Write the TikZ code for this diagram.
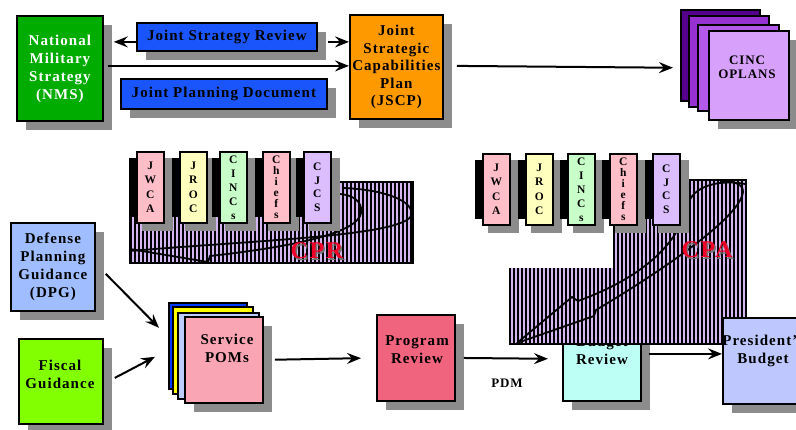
\documentclass[tikz,border=0pt]{standalone}
\usepackage{fontspec}
\newfontfamily\lsf{Liberation Serif}[LetterSpace=7]
\usetikzlibrary{shadows,arrows.meta}
\definecolor{shgray}{RGB}{140,140,140}
\definecolor{nmsgreen}{RGB}{0,172,0}
\definecolor{jblue}{RGB}{25,85,250}
\definecolor{jorange}{RGB}{255,153,0}
\definecolor{cincA}{RGB}{85,0,140}
\definecolor{cincB}{RGB}{150,50,210}
\definecolor{cincC}{RGB}{180,90,235}
\definecolor{cincD}{RGB}{215,160,250}
\definecolor{dpgblue}{RGB}{160,190,255}
\definecolor{fiscgreen}{RGB}{130,255,0}
\definecolor{pomblue}{RGB}{0,60,255}
\definecolor{pomyellow}{RGB}{255,255,0}
\definecolor{pomlblue}{RGB}{190,205,255}
\definecolor{pompink}{RGB}{250,165,180}
\definecolor{progred}{RGB}{240,100,125}
\definecolor{budcyan}{RGB}{190,255,245}
\definecolor{presblue}{RGB}{190,200,255}
\definecolor{orgpink}{RGB}{255,190,200}
\definecolor{orgyellow}{RGB}{255,255,190}
\definecolor{orggreen}{RGB}{200,255,200}
\definecolor{orgpurple}{RGB}{220,190,255}
\definecolor{hatchfill}{RGB}{212,182,242}
\definecolor{cpred}{RGB}{240,0,40}
\newcommand\orgbox[6]{%
  \fill[shgray] (#2+6,#3+7) rectangle (#2+37,#3+80);
  \fill[black] (#2-7,#3+7) rectangle (#2+5,#3+66);
  \node[orgb, fill=#4, font=\lsf\bfseries\fontsize{11.5}{#6}\selectfont] (#1) at (#2,#3) {#5};
}
\begin{document}
\begin{tikzpicture}[x=1pt,y=-1pt,
  box/.style={draw=black, line width=1.8pt, inner xsep=1pt, inner ysep=1pt, align=center, anchor=north west, font=\lsf\bfseries\fontsize{15}{18}\selectfont},
  page/.style={draw=black, line width=1.6pt, inner sep=0pt, anchor=north west},
  txt/.style={align=center, inner sep=0pt, font=\lsf\bfseries\fontsize{15}{18}\selectfont},
  shd/.style={general shadow={fill=shgray, shadow xshift=9pt, shadow yshift=-9pt}},
  arr/.style={line width=2pt, -{Stealth[length=14pt,width=11pt,inset=5pt]}},
  orgb/.style={draw=black, line width=1.5pt, inner sep=0pt, minimum width=27pt, minimum height=71pt, align=center, anchor=north west},
  hline/.style={line width=1.15pt},
  crv/.style={line width=1.8pt},
  lbl/.style={font=\lsf\bfseries\fontsize{13}{15}\selectfont},
  big/.style={font=\lsf\bfseries\fontsize{24}{26}\selectfont}]
\useasboundingbox (0,0) rectangle (796,429);

% ---------- top row ----------
\node[box, shd, fill=nmsgreen, text=white, minimum width=86pt, minimum height=105pt] (nms) at (16,15) {National\\Military\\Strategy\\(NMS)};
\node[box, shd, fill=jblue, minimum width=180pt, minimum height=28pt] (jsr) at (136,22) {Joint Strategy Review};
\node[box, shd, fill=jblue, minimum width=206pt, minimum height=30pt] (jpd) at (120,78) {Joint Planning Document};
\node[box, shd, fill=jorange, minimum width=93pt, minimum height=104pt, font=\lsf\bfseries\fontsize{15}{17.5}\selectfont] (jscp) at (349,14) {Joint\\Strategic\\Capabilities\\Plan\\(JSCP)};

\node[page, fill=cincA, minimum width=79pt, minimum height=91pt] (cincA) at (680,9) {};
\node[page, fill=cincB, minimum width=80pt, minimum height=91pt] (cincB) at (688,15) {};
\node[page, fill=cincC, minimum width=81pt, minimum height=86pt] (cincC) at (697,24) {};
\node[page, shd, fill=cincD, minimum width=80pt, minimum height=89pt] (cincD) at (708,30) {};
\node[txt, font=\lsf\bfseries\fontsize{13}{14}\selectfont] (cinctxt) at (747,67) {CINC\\OPLANS};

\draw[arr, shorten >=10pt] ([yshift=-5pt]jsr.west) -- ([yshift=26.5pt]nms.east);
\draw[arr, shorten <=10pt] ([yshift=-5pt]jsr.east) -- ([yshift=25pt]jscp.west);
\draw[arr, shorten <=4pt] ([yshift=2.5pt]nms.east) -- ([yshift=1pt]jscp.west);
\draw[arr, shorten >=7pt] ([xshift=13pt,yshift=1pt]jscp.east) -- ([yshift=-12.5pt]cincA.west);

% ---------- CPR ----------
\begin{scope}
  \clip (130,182) rectangle (413,263);
  \fill[hatchfill] (130,182) rectangle (413,263);
  \foreach \i in {0,...,71} \draw[hline] (131+4*\i,182) -- (131+4*\i,263);
\end{scope}
\draw[crv] (130,251) .. controls (260,240) and (400,236) .. (411,216) .. controls (416,200) and (380,189) .. (342,188);
\draw[crv] (130,249) -- (208,262) -- (210,256) .. controls (300,246) and (358,232) .. (361,213) .. controls (363,201) and (352,195) .. (340,194);
\draw[line width=1.6pt] (130,182) rectangle (413,263);

\orgbox{cprA}{136}{151}{orgpink}{J\\W\\C\\A}{14.5}
\orgbox{cprB}{179}{151}{orgyellow}{J\\R\\O\\C}{14.5}
\orgbox{cprC}{219}{151}{orggreen}{C\\I\\N\\C\\s}{14}
\orgbox{cprD}{262}{151}{orgpink}{C\\h\\i\\e\\f\\s}{11}
\orgbox{cprE}{303}{151}{orgpurple}{C\\J\\C\\S}{13.5}

\node[big, text=black!55] (cprsh) at (318.5,252.5) {CPR};
\node[big, text=cpred] (cpr) at (317,251) {CPR};

% ---------- bottom row ----------
\node[box, shd, fill=dpgblue, minimum width=84pt, minimum height=88pt] (dpg) at (10,222) {Defense\\Planning\\Guidance\\(DPG)};
\node[box, shd, fill=fiscgreen, minimum width=84pt, minimum height=85pt] (fisc) at (18,338) {};
\node[txt] (fisctxt) at (60,374) {Fiscal\\Guidance};

\node[page, fill=pomblue, minimum width=78pt, minimum height=86pt] (pomsA) at (168,302) {};
\node[page, fill=pomyellow, minimum width=80pt, minimum height=87pt] (pomsB) at (172,306) {};
\node[page, fill=pomlblue, minimum width=81pt, minimum height=86pt] (pomsC) at (177,312) {};
\node[box, shd, fill=pompink, minimum width=78pt, minimum height=86pt] (pomsD) at (184,316) {};
\node[txt] (pomstxt) at (227,348) {Service\\POMs};

\node[box, shd, fill=progred, minimum width=78pt, minimum height=86pt] (prog) at (376,314) {};
\node[txt] (progtxt) at (417,350) {Program\\Review};

\node[box, shd, fill=budcyan, minimum width=78pt, minimum height=84pt] (budget) at (562,316) {};
\node[txt] (budtxt) at (602,350) {Budget\\Review};

\draw[arr] ([xshift=10pt,yshift=-7pt]dpg.east) -- ([xshift=-9pt,yshift=18pt]pomsA.west);
\draw[arr] ([xshift=11pt,yshift=3.5pt]fisc.east) -- ([xshift=-13pt,yshift=-11pt]pomsA.west);
\draw[arr, shorten <=11pt, shorten >=15pt] (pomsD.east) -- (prog.west);
\draw[arr, shorten <=8pt, shorten >=14pt] (prog.east) -- (budget.west);

\node[lbl] (pdm) at (507,383) {PDM};
\node[lbl] (pbd) at (691,338) {PBD};

% ---------- CPA ----------
\begin{scope}
  \clip (509,268) -- (613,268) -- (613,180) -- (746,180) -- (746,344) -- (509,344) -- cycle;
  \fill[hatchfill] (509,180) rectangle (746,344);
  \foreach \i in {0,...,60} \draw[hline] (510+4*\i,180) -- (510+4*\i,344);
\end{scope}
\draw[crv] (517,343) -- (572,297) -- (578,301) .. controls (630,282) and (676,252) .. (688,205) .. controls (692,186) and (720,179) .. (745,184);
\draw[crv] (517,343) -- (594,316) -- (596,310) .. controls (660,272) and (733,222) .. (742,196) .. controls (746,186) and (738,181) .. (720,181);
\draw[line width=1.6pt] (613,180) -- (746,180) -- (746,344) -- (509,344);

\orgbox{cpaA}{482}{153}{orgpink}{J\\W\\C\\A}{14.5}
\orgbox{cpaB}{525}{153}{orgyellow}{J\\R\\O\\C}{14.5}
\orgbox{cpaC}{567}{153}{orggreen}{C\\I\\N\\C\\s}{14}
\orgbox{cpaD}{609}{153}{orgpink}{C\\h\\i\\e\\f\\s}{11}
\orgbox{cpaE}{652}{153}{orgpurple}{C\\J\\C\\S}{13.5}

\node[big, text=black!55] (cpash) at (708.5,251.5) {CPA};
\node[big, text=cpred] (cpa) at (707,250) {CPA};

% ---------- President's budget ----------
\node[box, shd, fill=presblue, minimum width=80pt, minimum height=86pt] (pres) at (722,317) {};
\node[txt] (prestxt) at (763,351) {President’s\\Budget};
\draw[arr, shorten <=7pt] ([yshift=5pt]budget.east) -- ([yshift=7pt]pres.west);
\end{tikzpicture}
\end{document}
